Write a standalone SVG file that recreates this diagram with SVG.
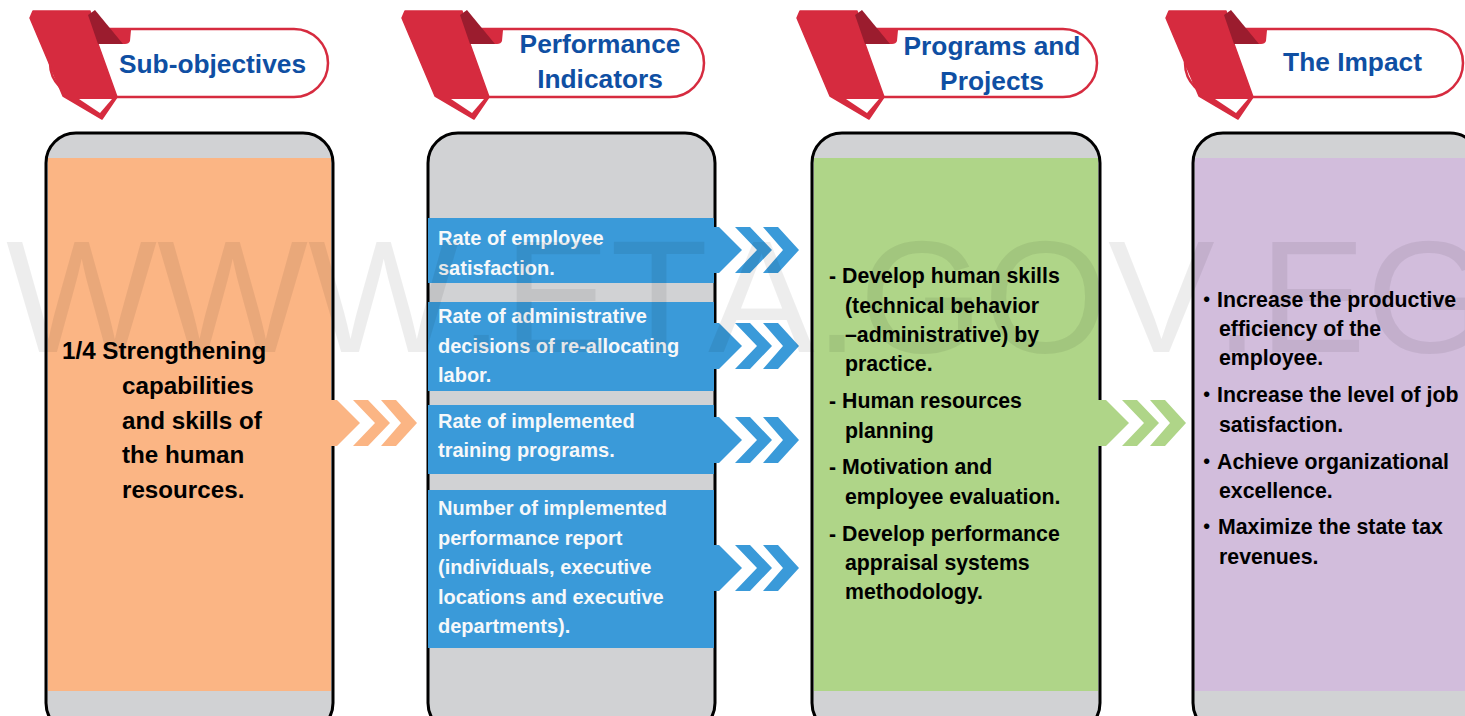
<svg xmlns="http://www.w3.org/2000/svg" width="1465" height="716" viewBox="0 0 1465 716">
<style>
text{font-family:"Liberation Sans","Noto Sans CJK JP",Arial,sans-serif;font-weight:700}
.panel{fill:#d1d2d4;stroke:#000;stroke-width:3}
.pill{fill:#fff;stroke:#d62b3f;stroke-width:2.5}
.title{fill:#0f4fa3;font-size:26.3px;text-anchor:middle}
.b{font-size:20px;fill:#f6f8fa}
.k{font-size:21.3px;fill:#000}
.o{font-size:24.2px;fill:#000}
.wm{font-family:"Liberation Sans",Arial,sans-serif;font-weight:400;font-size:160px;fill:#000;fill-opacity:.07;font-kerning:none}
</style>
<defs>
<g id="ribbon">
<path d="M30 18L33 11H90L98 44L117 97L102 119L63 96Z" fill="#d62b3f" stroke="#d62b3f" stroke-width="1.500" stroke-linejoin="round"/>
<path d="M108 30H131L130 41Q129 44 125 44H110Z" fill="#d62b3f"/>
<path d="M88 15L95 10L123 44H98Z" fill="#9b1c2e"/>
<path d="M79 99H112L100 113Z" fill="#fff"/>
</g>
<g id="chev">
<path d="M-95-23H-80L-57 0L-80 23H-95Z"/>
<path d="M-64-23H-49L-27 0L-49 23H-64L-42 0Z"/>
<path d="M-36-23H-21L0 0L-21 23H-36L-16 0Z"/>
</g>
</defs>
<g id="node-subobjectives">
<rect class="panel" x="46" y="133" width="287" height="600" rx="30"/>
<rect x="48" y="158" width="283" height="533" fill="#fbb584"/>
<rect class="pill" x="50" y="29" width="278" height="68" rx="34"/>
<use href="#ribbon"/>
<text class="title" x="212.500" y="73">Sub-objectives</text>
<text class="o" x="62" y="359">1/4 Strengthening</text>
<text class="o" x="122" y="394">capabilities</text>
<text class="o" x="122" y="429">and skills of</text>
<text class="o" x="122" y="463">the human</text>
<text class="o" x="122" y="498">resources.</text>
</g>
<g id="node-indicators">
<rect class="panel" x="428" y="133" width="287" height="600" rx="30"/>
<rect class="pill" x="430" y="29" width="274" height="68" rx="34"/>
<use href="#ribbon" x="372"/>
<text class="title" x="600" y="53">Performance</text>
<text class="title" x="600" y="88">Indicators</text>
<rect x="428" y="218" width="286" height="65" fill="#3a9ad9"/>
<rect x="428" y="302" width="286" height="89" fill="#3a9ad9"/>
<rect x="428" y="405" width="286" height="69" fill="#3a9ad9"/>
<rect x="428" y="490" width="286" height="158" fill="#3a9ad9"/>
<text class="b" x="438" y="245">Rate of employee</text>
<text class="b" x="438" y="275">satisfaction.</text>
<text class="b" x="438" y="323">Rate of administrative</text>
<text class="b" x="438" y="353">decisions of re-allocating</text>
<text class="b" x="438" y="382">labor.</text>
<text class="b" x="438" y="428">Rate of implemented</text>
<text class="b" x="438" y="457">training programs.</text>
<text class="b" x="438" y="515">Number of implemented</text>
<text class="b" x="438" y="545">performance report</text>
<text class="b" x="438" y="574">(individuals, executive</text>
<text class="b" x="438" y="604">locations and executive</text>
<text class="b" x="438" y="633">departments).</text>
</g>
<g id="node-programs">
<rect class="panel" x="812" y="133" width="288" height="600" rx="30"/>
<rect x="814" y="158" width="284" height="533" fill="#afd588"/>
<rect class="pill" x="825" y="29" width="272" height="68" rx="34"/>
<use href="#ribbon" x="767"/>
<text class="title" x="992" y="55">Programs and</text>
<text class="title" x="992" y="90">Projects</text>
<text class="k" x="829" y="283">- Develop human skills</text>
<text class="k" x="845" y="313">(technical behavior</text>
<text class="k" x="845" y="342">–administrative) by</text>
<text class="k" x="845" y="371">practice.</text>
<text class="k" x="829" y="408">- Human resources</text>
<text class="k" x="845" y="438">planning</text>
<text class="k" x="829" y="474">- Motivation and</text>
<text class="k" x="845" y="504">employee evaluation.</text>
<text class="k" x="829" y="541">- Develop performance</text>
<text class="k" x="845" y="570">appraisal systems</text>
<text class="k" x="845" y="599">methodology.</text>
</g>
<g id="node-impact">
<rect class="panel" x="1193" y="133" width="287" height="600" rx="30"/>
<rect x="1195" y="158" width="283" height="533" fill="#d2bddc"/>
<rect class="pill" x="1185" y="29" width="278" height="68" rx="34"/>
<use href="#ribbon" x="1136"/>
<text class="title" x="1352.500" y="71">The Impact</text>
<text class="k" x="1196" y="307">・<tspan x="1217">Increase the productive</tspan></text>
<text class="k" x="1219" y="336">efficiency of the</text>
<text class="k" x="1219" y="365">employee.</text>
<text class="k" x="1196" y="402">・<tspan x="1217">Increase the level of job</tspan></text>
<text class="k" x="1219" y="432">satisfaction.</text>
<text class="k" x="1196" y="469">・<tspan x="1217">Achieve organizational</tspan></text>
<text class="k" x="1219" y="498">excellence.</text>
<text class="k" x="1196" y="534">・<tspan x="1218">Maximize the state tax</tspan></text>
<text class="k" x="1219" y="564">revenues.</text>
</g>
<g id="connectors">
<use href="#chev" x="417" y="423" fill="#fbb584"/>
<use href="#chev" x="799" y="250" fill="#3a9ad9"/>
<use href="#chev" x="799" y="346" fill="#3a9ad9"/>
<use href="#chev" x="799" y="440" fill="#3a9ad9"/>
<use href="#chev" x="799" y="568" fill="#3a9ad9"/>
<use href="#chev" x="1186" y="423" fill="#afd588"/>
</g>
<text class="wm" x="6" y="352">WWW.ETA.GOV.EG</text>
</svg>
